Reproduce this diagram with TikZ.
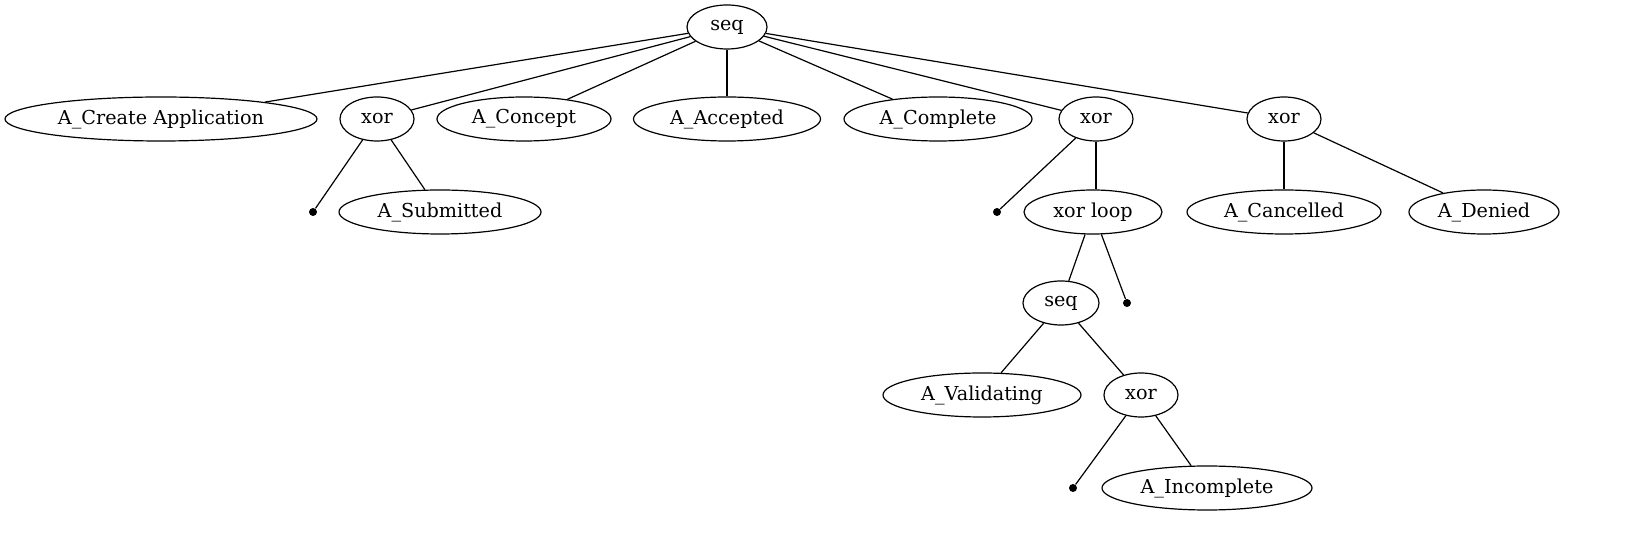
\documentclass[tikz,border=0pt]{standalone}
\usepackage{fontspec}
\setmainfont{DejaVu Serif}
\usetikzlibrary{shapes.geometric}
\begin{document}
\begin{tikzpicture}[x=0.5pt,y=-0.5pt,
  op/.style={ellipse,draw,line width=0.6pt,inner sep=0pt,minimum height=22pt,minimum width=#1*0.5pt,font=\fontsize{9.6pt}{11pt}\selectfont},
  tau/.style={circle,fill=black,inner sep=0pt,minimum size=4pt},
  edge/.style={line width=0.6pt}]
\useasboundingbox (0,0) rectangle (1635,539);
\node[op=80] (root) at (727,27) {seq};
\node[op=312] (cre) at (161,119) {A\_Create Application};
\node[op=74] (x1) at (377,119) {xor};
\node[op=174] (con) at (524,119) {A\_Concept};
\node[op=187] (acc) at (727,119) {A\_Accepted};
\node[op=188] (com) at (938,119) {A\_Complete};
\node[op=74] (x2) at (1096,119) {xor};
\node[op=74] (x3) at (1284,119) {xor};
\node[tau] (d1) at (313,212) {};
\node[op=202] (sub) at (440,212) {A\_Submitted};
\node[tau] (d2) at (997,212) {};
\node[op=138] (loop) at (1093,212) {xor loop};
\node[op=194] (can) at (1284,212) {A\_Cancelled};
\node[op=150] (den) at (1484,212) {A\_Denied};
\node[op=76] (s2) at (1061,303) {seq};
\node[tau] (d3) at (1127,303) {};
\node[op=198] (val) at (982,395) {A\_Validating};
\node[op=74] (x4) at (1141,395) {xor};
\node[tau] (d4) at (1073,488) {};
\node[op=210] (inc) at (1207,488) {A\_Incomplete};
\foreach \a/\b in {root/cre,root/x1,root/con,root/acc,root/com,root/x2,root/x3,
  x1/d1,x1/sub,x2/d2,x3/can,x3/den,loop/s2,loop/d3,s2/val,s2/x4,x4/d4,x4/inc}
  \draw[edge] (\a) -- (\b);
\draw[edge] (x2.south) -- (x2.south |- loop.north);
\end{tikzpicture}
\end{document}
